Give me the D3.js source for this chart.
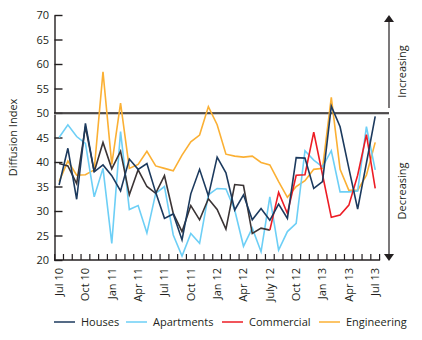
<!DOCTYPE html>
<html>
<head>
<meta charset="utf-8">
<script src="https://cdn.jsdelivr.net/npm/d3@7"></script>
<style>
  body { margin: 0; background: #fff; }
  text { font-family: "Open Sans", sans-serif; fill: #231f20; }
</style>
</head>
<body>
<div id="chart"></div>
<script>
// monthly, Jul 10 .. Jul 13
var months = d3.range(37).map(function(i) { return i })
var tickLabels = ["Jul 10", "Oct 10", "Jan 11", "Apr 11", "Jul 11", "Oct 11", "Jan 12",
  "Apr 12", "July 12", "Oct 12", "Jan 13", "Apr 13", "Jul 13"]
var yTicks = [20, 25, 30, 35, 40, 45, 50, 55, 60, 65, 70]

var houses = [35.3, 42.8, 32.4, 47.9, 38.0, 39.4, 37.2, 34.1, 40.6, 38.5, 39.7, 33.8, 28.5,
  29.4, 24.1, 33.5, 38.5, 33.1, 41.0, 37.8, 30.2, 33.3, 28.2, 30.5, 28.1, 31.4, 28.5,
  40.9, 40.8, 34.6, 36.0, 51.4, 47.2, 38.7, 30.4, 39.8, 49.3]
var apartments = [45.0, 47.6, 45.2, 43.8, 32.9, 38.7, 23.4, 46.2, 30.3, 31.1, 25.5, 33.6, 35.0,
  25.1, 20.8, 25.4, 23.4, 33.3, 34.6, 34.5, 30.2, 22.8, 26.5, 21.7, 32.9, 22.0, 25.8,
  27.5, 42.3, 40.4, 39.0, 42.3, 33.9, 33.9, 34.1, 47.2, 38.4]
// commercial: older measure (dark) up to mid 2012, then red
var commercialOld = [39.7, 39.2, 35.6, 47.2, 38.0, 44.0, 38.6, 42.2, 33.3, 38.4, 35.0, 33.6, 37.2,
  29.5, 25.8, 31.1, 28.2, 32.5, 30.3, 26.3, 35.4, 35.2, 25.4, 26.5, 26.1]
var commercial = [null, null, null, null, null, null, null, null, null, null, null, null, null,
  null, null, null, null, null, null, null, null, null, null, null, 26.1, 33.8, 29.5,
  37.3, 37.4, 46.1, 37.4, 28.7, 29.2, 31.2, 37.3, 45.6, 34.6]
var engineering = [36.0, 40.2, 37.3, 37.4, 38.4, 58.4, 39.5, 52.0, 38.7, 39.5, 42.2, 39.2, 38.7,
  38.2, 41.4, 44.1, 45.5, 51.3, 47.6, 41.6, 41.2, 41.0, 41.2, 39.9, 39.4, 36.0, 32.8,
  35.0, 36.2, 38.5, 38.7, 53.2, 38.5, 34.2, 34.2, 37.3, 44.0]

var width = 422, height = 340
var svg = d3.select("#chart").append("svg")
  .attr("width", width)
  .attr("height", height)

var x = d3.scaleBand().domain(months).range([54.7, 379.6])
var y = d3.scaleLinear().domain([20, 70]).range([260, 15])

// y axis, ticks pointing in
var yAxis = svg.append("g")
  .attr("transform", "translate(54.5,0)")
  .call(d3.axisLeft(y).tickValues(yTicks).tickSizeInner(-8).tickSizeOuter(0).tickPadding(6))
yAxis.select(".domain").attr("stroke", "#231f20").attr("stroke-width", 1.4)
yAxis.selectAll(".tick line").attr("stroke", "#231f20").attr("stroke-width", 1.4)
yAxis.selectAll("text").attr("font-size", 11).attr("x", -5.5).attr("fill", "#231f20")

// x axis: line + ticks on month boundaries
var xg = svg.append("g")
xg.append("line")
  .attr("x1", 54).attr("x2", x.range()[1] + 0.5)
  .attr("y1", 260).attr("y2", 260)
  .attr("stroke", "#231f20").attr("stroke-width", 1.4)
xg.selectAll(".xt")
  .data(d3.range(38))
  .enter().append("line")
  .attr("x1", function(d) { return x.range()[0] + d * x.bandwidth() })
  .attr("x2", function(d) { return x.range()[0] + d * x.bandwidth() })
  .attr("y1", 260).attr("y2", 254)
  .attr("stroke", "#231f20").attr("stroke-width", 1.2)
xg.selectAll(".xl")
  .data(tickLabels)
  .enter().append("text")
  .attr("transform", function(d, i) {
    return "translate(" + (x(i * 3) + x.bandwidth() / 2) + ",268) rotate(-90)"
  })
  .attr("text-anchor", "end")
  .attr("dy", "0.35em")
  .attr("font-size", 11)
  .text(function(d) { return d })

svg.append("text")
  .attr("transform", "translate(17,137.5) rotate(-90)")
  .attr("text-anchor", "middle")
  .attr("font-size", 11)
  .text("Diffusion Index")

// 50 line
svg.append("line")
  .attr("x1", 54).attr("x2", 389)
  .attr("y1", y(50) + 1).attr("y2", y(50) + 1)
  .attr("stroke", "#bbb").attr("stroke-width", 1.5)
svg.append("line")
  .attr("x1", 54).attr("x2", 389)
  .attr("y1", y(50)).attr("y2", y(50))
  .attr("stroke", "#231f20").attr("stroke-width", 1.5)

// arrows on the right
var ax = 389
svg.append("line").attr("x1", ax).attr("x2", ax).attr("y1", y(50) - 5).attr("y2", 20)
  .attr("stroke", "#231f20").attr("stroke-width", 1.2)
svg.append("path").attr("d", "M" + (ax - 5) + ",22 L" + ax + ",15 L" + (ax + 5) + ",22 Z")
  .attr("fill", "#231f20")
svg.append("line").attr("x1", ax).attr("x2", ax).attr("y1", y(50) + 5).attr("y2", 255)
  .attr("stroke", "#231f20").attr("stroke-width", 1.2)
svg.append("path").attr("d", "M" + (ax - 5) + ",254 L" + ax + ",261 L" + (ax + 5) + ",254 Z")
  .attr("fill", "#231f20")
svg.append("text")
  .attr("transform", "translate(405.5,71.5) rotate(-90)")
  .attr("text-anchor", "middle").attr("font-size", 11)
  .text("Increasing")
svg.append("text")
  .attr("transform", "translate(405.5,191) rotate(-90)")
  .attr("text-anchor", "middle").attr("font-size", 11)
  .text("Decreasing")

var line = d3.line()
  .defined(function(d) { return d != null })
  .x(function(d, i) { return x(i) + x.bandwidth() / 2 })
  .y(function(d) { return y(d) })

var series = [
  { name: "Engineering", values: engineering, color: "#fbb034" },
  { name: "Apartments", values: apartments, color: "#6dcff6" },
  { name: "CommercialOld", values: commercialOld, color: "#3b3435" },
  { name: "Commercial", values: commercial, color: "#ed1c24" },
  { name: "Houses", values: houses, color: "#1c3a5e" }
]
svg.append("g").selectAll("path")
  .data(series)
  .enter().append("path")
  .attr("d", function(d) { return line(d.values) })
  .attr("fill", "none")
  .attr("stroke", function(d) { return d.color })
  .attr("stroke-width", 1.6)
  .attr("stroke-linejoin", "miter")

// legend
var legend = [
  { name: "Houses", color: "#1c3a5e", x: 54 },
  { name: "Apartments", color: "#6dcff6", x: 126 },
  { name: "Commercial", color: "#ed1c24", x: 222 },
  { name: "Engineering", color: "#fbb034", x: 319 }
]
var lg = svg.append("g").selectAll("g")
  .data(legend)
  .enter().append("g")
  .attr("transform", function(d) { return "translate(" + d.x + ",322)" })
lg.append("line").attr("x1", 0).attr("x2", 21)
  .attr("stroke", function(d) { return d.color }).attr("stroke-width", 1.5)
lg.append("text").attr("x", 27).attr("dy", "0.35em").attr("font-size", 11)
  .text(function(d) { return d.name })
</script>
</body>
</html>
